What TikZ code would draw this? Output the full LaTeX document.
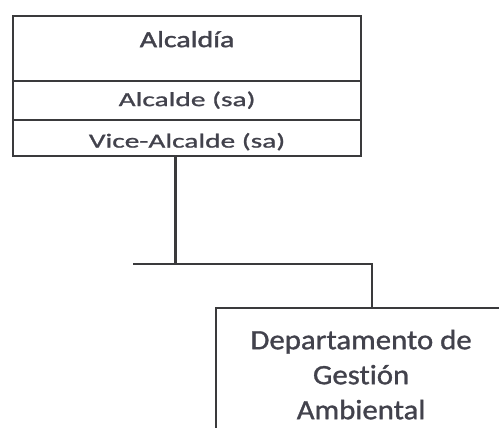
\documentclass[tikz,border=0pt]{standalone}
\usepackage{fontspec}
\setmainfont{Carlito}[Ligatures=NoCommon]
\newfontfamily\headfont[FakeStretch=1.3, FakeBold=1.6, Ligatures=NoCommon]{Carlito}
\newfontfamily\rowfont[FakeStretch=1.47, FakeBold=1.1, Ligatures=NoCommon]{Carlito}
\newfontfamily\deptfont[FakeStretch=1.1, FakeBold=1.1, Ligatures=NoCommon]{Carlito}
\definecolor{lineclr}{RGB}{58,58,60}
\definecolor{textclr}{RGB}{66,66,76}

\begin{document}
\begin{tikzpicture}[x=1pt, y=-1pt,
	box/.style={draw=lineclr, line width=2.2pt, rectangle, inner sep=0pt, anchor=north west, text=textclr},
	rowbox/.style={box, minimum width=348pt, font=\rowfont\fontsize{20}{24}\selectfont},
	link/.style={draw=lineclr, line width=2.6pt}]
	\clip (0, 0) rectangle (499, 428);
	\fill[white] (0, 0) rectangle (499, 428);
	\node[box, minimum width=348pt, minimum height=65pt, text height=17pt, text depth=20pt, font=\headfont\fontsize{23}{28}\selectfont] (alcaldia) at (12, 15) {Alcaldía};
	\node[rowbox, minimum height=39pt, text height=15pt, text depth=4pt] (alcalde) at (12, 80) {Alcalde (sa)};
	\node[rowbox, minimum height=36pt, text height=19pt, text depth=0pt] (vice) at (12, 119) {Vice-Alcalde (sa)};
	\node[box, minimum width=290pt, minimum height=133pt, align=center, font=\deptfont\fontsize{28}{35}\selectfont] (depto) at (215, 307) {Departamento de\\Gestión\\Ambiental};
	\coordinate (bus) at (175.5, 264);
	\coordinate (busl) at (133, 264);
	\coordinate (busr) at (372, 264);
	\draw[link] (vice.south -| bus) -- (bus);
	\draw[link] (busl) -- (busr) -- (depto.north -| busr);
\end{tikzpicture}
\end{document}
